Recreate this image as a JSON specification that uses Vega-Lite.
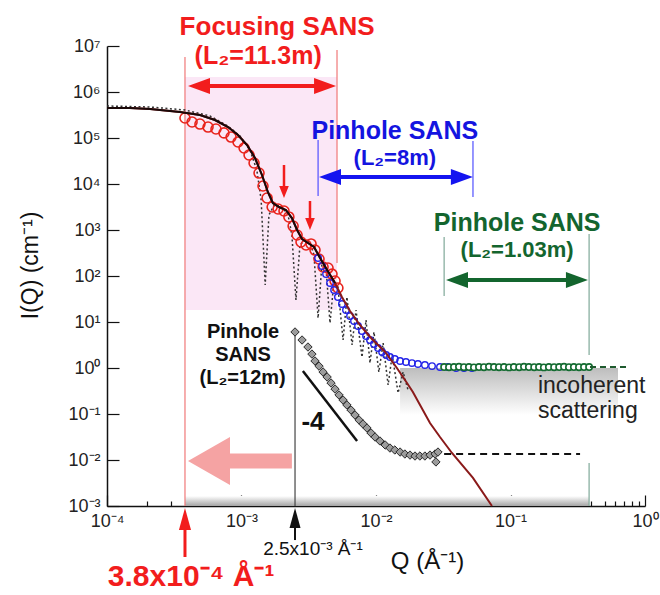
{
  "$schema": "https://vega.github.io/schema/vega-lite/v6.json",
  "width": 538,
  "height": 460,
  "autosize": {"type": "none"},
  "padding": {"left": 107, "top": 46, "right": 15, "bottom": 89},
  "background": "white",
  "config": {"view": {"stroke": null}, "font": "Liberation Sans"},
  "resolve": {"scale": {"color": "independent"}},
  "datasets": {
    "focusing": [
      {"q": 3.80e-4, "i": 2.72e5}, {"q": 4.29e-4, "i": 2.23e5}, {"q": 4.91e-4, "i": 2.01e5}, {"q": 5.64e-4, "i": 1.73e5},
      {"q": 6.46e-4, "i": 1.57e5}, {"q": 7.41e-4, "i": 1.29e5}, {"q": 8.36e-4, "i": 1.05e5}, {"q": 9.42e-4, "i": 8.18e4},
      {"q": 1.045e-3, "i": 6.06e4}, {"q": 1.138e-3, "i": 4.27e4}, {"q": 1.24e-3, "i": 2.86e4}, {"q": 1.35e-3, "i": 1.73e4},
      {"q": 1.445e-3, "i": 9.05e3}, {"q": 1.55e-3, "i": 4.96e3}, {"q": 1.69e-3, "i": 3.16e3}, {"q": 1.87e-3, "i": 2.86e3},
      {"q": 2.07e-3, "i": 2.59e3}, {"q": 2.25e-3, "i": 1.92e3}, {"q": 2.42e-3, "i": 1.22e3}, {"q": 2.59e-3, "i": 778},
      {"q": 2.77e-3, "i": 548}, {"q": 3.02e-3, "i": 472}, {"q": 3.29e-3, "i": 497}, {"q": 3.52e-3, "i": 367},
      {"q": 3.77e-3, "i": 234}, {"q": 4.04e-3, "i": 157}, {"q": 4.40e-3, "i": 149}, {"q": 4.71e-3, "i": 110},
      {"q": 4.96e-3, "i": 77.8}, {"q": 5.21e-3, "i": 54.8}
    ],
    "pinhole8m": [
      {"q": 3.71e-3, "i": 246}, {"q": 3.97e-3, "i": 165}, {"q": 4.25e-3, "i": 110}, {"q": 4.55e-3, "i": 70.5},
      {"q": 4.88e-3, "i": 49.6}, {"q": 5.21e-3, "i": 34.9}, {"q": 5.58e-3, "i": 24.6}, {"q": 5.98e-3, "i": 18.2},
      {"q": 6.41e-3, "i": 13.5}, {"q": 6.86e-3, "i": 10.5}, {"q": 7.35e-3, "i": 8.19}, {"q": 7.87e-3, "i": 6.37},
      {"q": 8.43e-3, "i": 4.96}, {"q": 9.02e-3, "i": 4.06}, {"q": 9.66e-3, "i": 3.33}, {"q": 1.035e-2, "i": 2.72},
      {"q": 1.11e-2, "i": 2.23}, {"q": 1.19e-2, "i": 1.92}, {"q": 1.27e-2, "i": 1.73}, {"q": 1.38e-2, "i": 1.57},
      {"q": 1.51e-2, "i": 1.42}, {"q": 1.67e-2, "i": 1.35}, {"q": 1.85e-2, "i": 1.28}, {"q": 2.05e-2, "i": 1.22},
      {"q": 2.31e-2, "i": 1.16}, {"q": 2.61e-2, "i": 1.10}, {"q": 2.99e-2, "i": 1.05}, {"q": 3.43e-2, "i": 1.05},
      {"q": 3.94e-2, "i": 1.0}, {"q": 4.51e-2, "i": 1.0}, {"q": 5.17e-2, "i": 1.0}
    ],
    "pinhole1m": [
      {"q": 0.0321, "i": 1.05}, {"q": 0.0349, "i": 1.04}, {"q": 0.0380, "i": 1.05}, {"q": 0.0414, "i": 1.06},
      {"q": 0.0451, "i": 1.04}, {"q": 0.0491, "i": 1.05}, {"q": 0.0535, "i": 1.03}, {"q": 0.0583, "i": 1.05},
      {"q": 0.0635, "i": 1.04}, {"q": 0.0692, "i": 1.06}, {"q": 0.0754, "i": 1.05}, {"q": 0.0821, "i": 1.04},
      {"q": 0.0895, "i": 1.05}, {"q": 0.0975, "i": 1.03}, {"q": 0.106, "i": 1.05}, {"q": 0.116, "i": 1.04},
      {"q": 0.126, "i": 1.06}, {"q": 0.137, "i": 1.05}, {"q": 0.150, "i": 1.04}, {"q": 0.163, "i": 1.05},
      {"q": 0.177, "i": 1.03}, {"q": 0.193, "i": 1.05}, {"q": 0.211, "i": 1.04}, {"q": 0.230, "i": 1.05},
      {"q": 0.250, "i": 1.06}, {"q": 0.272, "i": 1.04}, {"q": 0.296, "i": 1.05}, {"q": 0.323, "i": 1.04},
      {"q": 0.352, "i": 1.05}, {"q": 0.384, "i": 1.05}
    ],
    "pinhole12m": [
      {"q": 2.50e-3, "i": 6.07}, {"q": 2.82e-3, "i": 4.06}, {"q": 3.12e-3, "i": 2.86}, {"q": 3.34e-3, "i": 2.01},
      {"q": 3.52e-3, "i": 1.42}, {"q": 3.77e-3, "i": 1.10}, {"q": 4.04e-3, "i": 0.818}, {"q": 4.33e-3, "i": 0.637},
      {"q": 4.63e-3, "i": 0.472}, {"q": 4.96e-3, "i": 0.349}, {"q": 5.31e-3, "i": 0.259}, {"q": 5.69e-3, "i": 0.201},
      {"q": 6.08e-3, "i": 0.157}, {"q": 6.52e-3, "i": 0.122}, {"q": 6.98e-3, "i": 0.0951}, {"q": 7.48e-3, "i": 0.0741},
      {"q": 8.00e-3, "i": 0.0607}, {"q": 8.57e-3, "i": 0.0496}, {"q": 9.18e-3, "i": 0.0387}, {"q": 9.84e-3, "i": 0.0316},
      {"q": 1.07e-2, "i": 0.0259}, {"q": 1.17e-2, "i": 0.0212}, {"q": 1.27e-2, "i": 0.0182}, {"q": 1.38e-2, "i": 0.0165},
      {"q": 1.51e-2, "i": 0.0149}, {"q": 1.64e-2, "i": 0.0135}, {"q": 1.79e-2, "i": 0.0128}, {"q": 1.95e-2, "i": 0.0122},
      {"q": 2.12e-2, "i": 0.0122}, {"q": 2.31e-2, "i": 0.0122}, {"q": 2.52e-2, "i": 0.0128}, {"q": 2.75e-2, "i": 0.0135},
      {"q": 2.89e-2, "i": 0.0149}, {"q": 2.79e-2, "i": 0.00906}
    ],
    "model": [
      {"q": 1.0e-4, "i": 4.49e5}, {"q": 1.48e-4, "i": 4.49e5}, {"q": 2.09e-4, "i": 4.27e5}, {"q": 3.49e-4, "i": 3.67e5},
      {"q": 4.91e-4, "i": 3.16e5}, {"q": 6.35e-4, "i": 2.46e5}, {"q": 7.94e-4, "i": 1.73e5}, {"q": 9.42e-4, "i": 1.16e5},
      {"q": 1.10e-3, "i": 7.05e4}, {"q": 1.26e-3, "i": 3.67e4}, {"q": 1.42e-3, "i": 1.57e4}, {"q": 1.57e-3, "i": 6.70e3},
      {"q": 1.71e-3, "i": 3.86e3}, {"q": 1.90e-3, "i": 3.16e3}, {"q": 2.14e-3, "i": 2.72e3}, {"q": 2.37e-3, "i": 1.82e3},
      {"q": 2.59e-3, "i": 1.0e3}, {"q": 2.82e-3, "i": 637}, {"q": 3.12e-3, "i": 522}, {"q": 3.46e-3, "i": 427},
      {"q": 3.84e-3, "i": 246}, {"q": 4.33e-3, "i": 135}, {"q": 4.96e-3, "i": 70.5}, {"q": 5.58e-3, "i": 34.9},
      {"q": 6.41e-3, "i": 17.3}, {"q": 7.60e-3, "i": 8.60}, {"q": 9.33e-3, "i": 4.27}, {"q": 1.17e-2, "i": 2.23},
      {"q": 1.43e-2, "i": 1.0}, {"q": 1.70e-2, "i": 0.472}, {"q": 1.88e-2, "i": 0.301}, {"q": 2.52e-2, "i": 0.0637},
      {"q": 2.99e-2, "i": 0.0316}, {"q": 3.67e-2, "i": 0.0142}, {"q": 5.26e-2, "i": 4.07e-3}, {"q": 7.28e-2, "i": 1.0e-3}
    ],
    "fit": [
      {"q": 1.0e-4, "i": 4.49e5}, {"q": 1.48e-4, "i": 4.49e5}, {"q": 2.09e-4, "i": 4.27e5}, {"q": 3.49e-4, "i": 3.67e5},
      {"q": 4.91e-4, "i": 3.16e5}, {"q": 6.35e-4, "i": 2.46e5}, {"q": 7.94e-4, "i": 1.73e5}, {"q": 9.42e-4, "i": 1.16e5},
      {"q": 1.10e-3, "i": 7.05e4}, {"q": 1.26e-3, "i": 3.67e4}, {"q": 1.42e-3, "i": 1.57e4}, {"q": 1.57e-3, "i": 6.70e3},
      {"q": 1.71e-3, "i": 3.86e3}, {"q": 1.90e-3, "i": 3.16e3}, {"q": 2.14e-3, "i": 2.72e3}, {"q": 2.37e-3, "i": 1.82e3},
      {"q": 2.59e-3, "i": 1.0e3}, {"q": 2.82e-3, "i": 637}, {"q": 3.12e-3, "i": 522}, {"q": 3.46e-3, "i": 427},
      {"q": 3.84e-3, "i": 246}, {"q": 4.33e-3, "i": 135}, {"q": 4.96e-3, "i": 70.5}
    ],
    "unsmeared": [
      {"q": 1.0e-4, "i": 4.96e5}, {"q": 2.09e-4, "i": 4.72e5}, {"q": 3.80e-4, "i": 4.06e5}, {"q": 5.83e-4, "i": 3.01e5},
      {"q": 7.94e-4, "i": 1.82e5}, {"q": 9.75e-4, "i": 1.10e5}, {"q": 1.156e-3, "i": 5.48e4}, {"q": 1.30e-3, "i": 2.01e4},
      {"q": 1.40e-3, "i": 4.49e3}, {"q": 1.50e-3, "i": 63.7}, {"q": 1.60e-3, "i": 2.12e3}, {"q": 1.75e-3, "i": 3.49e3},
      {"q": 1.97e-3, "i": 3.33e3}, {"q": 2.22e-3, "i": 2.12e3}, {"q": 2.37e-3, "i": 778}, {"q": 2.54e-3, "i": 30.1},
      {"q": 2.72e-3, "i": 472}, {"q": 2.96e-3, "i": 607}, {"q": 3.23e-3, "i": 548}, {"q": 3.46e-3, "i": 286},
      {"q": 3.71e-3, "i": 12.2}, {"q": 3.97e-3, "i": 201}, {"q": 4.25e-3, "i": 149}, {"q": 4.55e-3, "i": 9.51},
      {"q": 4.88e-3, "i": 81.8}, {"q": 5.21e-3, "i": 57.7}, {"q": 5.69e-3, "i": 4.06}, {"q": 6.08e-3, "i": 34.9},
      {"q": 6.64e-3, "i": 3.16}, {"q": 7.10e-3, "i": 18.2}, {"q": 7.87e-3, "i": 1.73}, {"q": 8.43e-3, "i": 11.0},
      {"q": 9.02e-3, "i": 1.28}, {"q": 9.66e-3, "i": 6.06}, {"q": 1.05e-2, "i": 0.818}, {"q": 1.13e-2, "i": 3.49},
      {"q": 1.23e-2, "i": 0.427}, {"q": 1.32e-2, "i": 1.92}, {"q": 1.46e-2, "i": 0.286}, {"q": 1.59e-2, "i": 0.818},
      {"q": 1.73e-2, "i": 0.333}
    ]
  },
  "encoding": {
    "x": {
      "field": "q", "type": "quantitative",
      "scale": {"type": "log", "domain": [0.0001, 1], "nice": false},
      "axis": {
        "values": [0.0001, 0.0002, 0.0003, 0.0004, 0.0005, 0.0006, 0.0007, 0.0008, 0.0009,
                   0.001, 0.002, 0.003, 0.004, 0.005, 0.006, 0.007, 0.008, 0.009,
                   0.01, 0.02, 0.03, 0.04, 0.05, 0.06, 0.07, 0.08, 0.09,
                   0.1, 0.2, 0.3, 0.4, 0.5, 0.6, 0.7, 0.8, 0.9, 1],
        "labelExpr": "abs(log(datum.value)/LN10 - round(log(datum.value)/LN10)) < 0.001 ? '10' + ['⁻⁴','⁻³','⁻²','⁻¹','⁰'][round(log(datum.value)/LN10) + 4] : ''",
        "tickSize": {"condition": {"test": "abs(log(datum.value)/LN10 - round(log(datum.value)/LN10)) < 0.001", "value": -11}, "value": -5},
        "tickColor": "#111", "tickWidth": 1.2,
        "domainColor": "#111", "domainWidth": 1.5,
        "grid": false, "labelFlush": false, "labelOverlap": false, "labelBound": false,
        "labelFont": "Liberation Sans", "labelFontSize": 18, "labelColor": "#222", "labelPadding": 17,
        "title": "Q  (Å⁻¹)", "titleFontSize": 24, "titleFontWeight": "normal", "titleColor": "#111",
        "titleX": 320, "titleY": 55, "titleBaseline": "middle", "titleAlign": "center"
      }
    },
    "y": {
      "field": "i", "type": "quantitative",
      "scale": {"type": "log", "domain": [0.001, 10000000], "nice": false},
      "axis": {
        "values": [0.001, 0.01, 0.1, 1, 10, 100, 1000, 10000, 100000, 1000000, 10000000],
        "labelExpr": "'10' + ['⁻³','⁻²','⁻¹','⁰','¹','²','³','⁴','⁵','⁶','⁷'][round(log(datum.value)/LN10) + 3]",
        "tickSize": -12, "tickColor": "#111", "tickWidth": 1.2,
        "domainColor": "#111", "domainWidth": 1.5,
        "grid": false, "labelFont": "Liberation Sans", "labelFontSize": 18, "labelColor": "#222", "labelPadding": 19,
        "labelBound": false, "labelFlush": false, "labelOverlap": false,
        "title": "I(Q)  (cm⁻¹)", "titleFontSize": 23, "titleFontWeight": "normal", "titleColor": "#111",
        "titleX": -77, "titleY": 219, "titleBaseline": "middle", "titleAlign": "center", "titleAngle": -90
      }
    }
  },
  "layer": [
    {
      "data": {"values": [{"q": 3.8e-4, "q2": 5.13e-3, "i": 18.2, "i2": 2.12e6}]},
      "mark": {"type": "rect", "color": "#fbe7f6"},
      "encoding": {"x2": {"field": "q2"}, "y2": {"field": "i2"}}
    },
    {
      "data": {"values": [{"q": 0.0151, "q2": 0.63, "i": 0.095, "i2": 1.0}]},
      "mark": {"type": "rect", "color": {"gradient": "linear", "x1": 0, "y1": 0, "x2": 0, "y2": 1,
        "stops": [{"offset": 0, "color": "#bdbdbd"}, {"offset": 1, "color": "#ffffff"}]}},
      "encoding": {"x2": {"field": "q2"}, "y2": {"field": "i2"}}
    },
    {
      "data": {"values": [{"q": 3.8e-4, "q2": 0.384, "i": 1e-3, "i2": 1.65e-3}]},
      "mark": {"type": "rect", "color": {"gradient": "linear", "x1": 0, "y1": 0, "x2": 0, "y2": 1,
        "stops": [{"offset": 0, "color": "#ffffff"}, {"offset": 1, "color": "#a5a5a5"}]}},
      "encoding": {"x2": {"field": "q2"}, "y2": {"field": "i2"}}
    },
    {
      "data": {"values": [{"q": 8.0e-4, "q2": 2.37e-3, "i": 9.51e-3}]},
      "mark": {"type": "rule", "color": "#f5a3a3", "strokeWidth": 15, "strokeCap": "butt"},
      "encoding": {"x2": {"field": "q2"}}
    },
    {
      "data": {"values": [{"q": 5.73e-4, "i": 9.51e-3}]},
      "mark": {"type": "point", "shape": "M-0.875,0L0.875,-1L0.875,1Z", "size": 2304, "filled": true, "color": "#f5a3a3", "opacity": 1}
    },
    {
      "data": {"values": [
        {"set": "focusing", "q": 3.8e-4, "i": 1e-3, "i2": 5.77e6},
        {"set": "focusing", "q": 5.13e-3, "i": 192, "i2": 8.18e6},
        {"set": "pinhole8m", "q": 3.71e-3, "i": 5.48e3, "i2": 9.06e4},
        {"set": "pinhole8m", "q": 5.26e-2, "i": 5.21e3, "i2": 8.6e4},
        {"set": "pinhole1m", "q": 0.0321, "i": 36.7, "i2": 705},
        {"set": "pinhole1m", "q": 0.384, "i": 1.92, "i2": 818},
        {"set": "pinhole1m", "q": 0.384, "i": 1e-3, "i2": 0.00861},
        {"set": "pinhole12m", "q": 2.5e-3, "i": 1e-3, "i2": 6.07}
      ]},
      "mark": {"type": "rule", "strokeWidth": 1.2},
      "encoding": {
        "y2": {"field": "i2"},
        "color": {"field": "set", "type": "nominal", "legend": null,
          "scale": {"domain": ["focusing", "pinhole8m", "pinhole1m", "pinhole12m"], "range": ["#f07878", "#5050ff", "#7fa898", "#444444"]}}
      }
    },
    {
      "data": {"name": "unsmeared"},
      "mark": {"type": "line", "color": "#333333", "strokeWidth": 1.5, "strokeDash": [2, 2.5]}
    },
    {
      "data": {"name": "focusing"},
      "mark": {"type": "point", "shape": "circle", "filled": false, "color": "#e8231c", "size": 100, "strokeWidth": 1.6, "opacity": 1}
    },
    {
      "data": {"name": "pinhole8m"},
      "mark": {"type": "point", "shape": "circle", "filled": false, "color": "#2424e8", "size": 42, "strokeWidth": 1.4, "opacity": 1}
    },
    {
      "data": {"name": "pinhole1m"},
      "mark": {"type": "point", "shape": "circle", "fill": "#ffffff", "stroke": "#136b30", "fillOpacity": 1, "size": 40, "strokeWidth": 1.6, "opacity": 1}
    },
    {
      "data": {"name": "pinhole12m"},
      "mark": {"type": "point", "shape": "diamond", "fill": "#9c9c9c", "stroke": "#2a2a2a", "fillOpacity": 1, "size": 70, "strokeWidth": 1, "opacity": 1}
    },
    {
      "data": {"name": "model"},
      "mark": {"type": "line", "color": "#8a1a1a", "strokeWidth": 2}
    },
    {
      "data": {"name": "fit"},
      "mark": {"type": "line", "color": "#1a0808", "strokeWidth": 2}
    },
    {
      "data": {"values": [{"q": 0.0321, "q2": 0.329, "i": 0.0135}]},
      "mark": {"type": "rule", "color": "#111111", "strokeWidth": 2, "strokeDash": [7, 5]},
      "encoding": {"x2": {"field": "q2"}}
    },
    {
      "data": {"values": [{"q": 0.39, "q2": 0.75, "i": 1.05}]},
      "mark": {"type": "rule", "color": "#1e5a2e", "strokeWidth": 2, "strokeDash": [6, 4]},
      "encoding": {"x2": {"field": "q2"}}
    },
    {
      "data": {"values": [{"q": 2.86e-3, "q2": 7.23e-3, "i": 0.861, "i2": 0.0259}]},
      "mark": {"type": "rule", "color": "#111111", "strokeWidth": 2.5},
      "encoding": {"x2": {"field": "q2"}, "y2": {"field": "i2"}}
    },
    {
      "data": {"values": [
        {"set": "focusing", "q": 4.83e-4, "q2": 4.18e-3, "i": 1.35e6},
        {"set": "pinhole8m", "q": 4.55e-3, "q2": 4.35e-2, "i": 1.42e4},
        {"set": "pinhole1m", "q": 4.00e-2, "q2": 0.312, "i": 81.8}
      ]},
      "mark": {"type": "rule", "strokeWidth": 4},
      "encoding": {
        "x2": {"field": "q2"},
        "color": {"field": "set", "type": "nominal", "legend": null,
          "scale": {"domain": ["focusing", "pinhole8m", "pinhole1m"], "range": ["#f21d1d", "#1414f0", "#13652e"]}}
      }
    },
    {
      "data": {"values": [
        {"set": "focusing", "q": 4.83e-4, "i": 1.35e6},
        {"set": "pinhole8m", "q": 4.55e-3, "i": 1.42e4},
        {"set": "pinhole1m", "q": 4.00e-2, "i": 81.8}
      ]},
      "mark": {"type": "point", "shape": "M-1,0L1,-0.72L1,0.72Z", "size": 484, "filled": true, "opacity": 1},
      "encoding": {
        "color": {"field": "set", "type": "nominal", "legend": null,
          "scale": {"domain": ["focusing", "pinhole8m", "pinhole1m"], "range": ["#f21d1d", "#1414f0", "#13652e"]}}
      }
    },
    {
      "data": {"values": [
        {"set": "focusing", "q": 4.18e-3, "i": 1.35e6},
        {"set": "pinhole8m", "q": 4.35e-2, "i": 1.42e4},
        {"set": "pinhole1m", "q": 0.312, "i": 81.8}
      ]},
      "mark": {"type": "point", "shape": "M1,0L-1,-0.72L-1,0.72Z", "size": 484, "filled": true, "opacity": 1},
      "encoding": {
        "color": {"field": "set", "type": "nominal", "legend": null,
          "scale": {"domain": ["focusing", "pinhole8m", "pinhole1m"], "range": ["#f21d1d", "#1414f0", "#13652e"]}}
      }
    },
    {
      "data": {"values": [
        {"q": 2.07e-3, "i": 2.59e4, "i2": 6.70e3},
        {"q": 3.23e-3, "i": 4.27e3, "i2": 1.35e3}
      ]},
      "mark": {"type": "rule", "color": "#f21d1d", "strokeWidth": 2.5},
      "encoding": {"y2": {"field": "i2"}}
    },
    {
      "data": {"values": [
        {"q": 2.07e-3, "i": 6.70e3},
        {"q": 3.23e-3, "i": 1.35e3}
      ]},
      "mark": {"type": "point", "shape": "M0,1L-0.8,-1L0.8,-1Z", "size": 144, "filled": true, "color": "#f21d1d", "opacity": 1}
    },
    {
      "data": {"values": [{"q": 3.8e-4, "i": 7.78e-5, "i2": 5.21e-4}]},
      "mark": {"type": "rule", "color": "#f21d1d", "strokeWidth": 3},
      "encoding": {"y2": {"field": "i2"}}
    },
    {
      "data": {"values": [{"q": 3.8e-4, "i": 5.21e-4}]},
      "mark": {"type": "point", "shape": "M0,-1L0.55,1L-0.55,1Z", "size": 484, "filled": true, "color": "#f21d1d", "opacity": 1}
    },
    {
      "data": {"values": [{"q": 2.5e-3, "i": 1.82e-4, "i2": 5.48e-4}]},
      "mark": {"type": "rule", "color": "#111111", "strokeWidth": 2},
      "encoding": {"y2": {"field": "i2"}}
    },
    {
      "data": {"values": [{"q": 2.5e-3, "i": 5.48e-4}]},
      "mark": {"type": "point", "shape": "M0,-1L0.55,1L-0.55,1Z", "size": 400, "filled": true, "color": "#111111", "opacity": 1}
    },
    {
      "data": {"values": [{"t": "Focusing SANS", "q": 1.84e-3, "i": 2.6e7}]},
      "mark": {"type": "text", "color": "#f21d1d", "fontSize": 26, "fontWeight": "bold", "align": "center", "baseline": "middle"},
      "encoding": {"text": {"field": "t"}}
    },
    {
      "data": {"values": [{"t": "3.8x10⁻⁴ Å⁻¹", "q": 4.22e-4, "i": 2.86e-5}]},
      "mark": {"type": "text", "color": "#f21d1d", "fontSize": 30, "fontWeight": "bold", "align": "center", "baseline": "middle"},
      "encoding": {"text": {"field": "t"}}
    },
    {
      "data": {"values": [{"t": "(L₂=11.3m)", "q": 1.33e-3, "i": 6.0e6}]},
      "mark": {"type": "text", "color": "#f21d1d", "fontSize": 25, "fontWeight": "bold", "align": "center", "baseline": "middle"},
      "encoding": {"text": {"field": "t"}}
    },
    {
      "data": {"values": [{"t": "Pinhole SANS", "q": 1.38e-2, "i": 1.42e5}]},
      "mark": {"type": "text", "color": "#1414e0", "fontSize": 25, "fontWeight": "bold", "align": "center", "baseline": "middle"},
      "encoding": {"text": {"field": "t"}}
    },
    {
      "data": {"values": [{"t": "(L₂=8m)", "q": 1.38e-2, "i": 3.6e4}]},
      "mark": {"type": "text", "color": "#1414e0", "fontSize": 22, "fontWeight": "bold", "align": "center", "baseline": "middle"},
      "encoding": {"text": {"field": "t"}}
    },
    {
      "data": {"values": [{"t": "Pinhole SANS", "q": 0.112, "i": 1.45e3}]},
      "mark": {"type": "text", "color": "#13652e", "fontSize": 25, "fontWeight": "bold", "align": "center", "baseline": "middle"},
      "encoding": {"text": {"field": "t"}}
    },
    {
      "data": {"values": [{"t": "(L₂=1.03m)", "q": 0.112, "i": 370}]},
      "mark": {"type": "text", "color": "#13652e", "fontSize": 22, "fontWeight": "bold", "align": "center", "baseline": "middle"},
      "encoding": {"text": {"field": "t"}}
    },
    {
      "data": {"values": [
        {"t": "Pinhole", "q": 1.026e-3, "i": 6.07},
        {"t": "SANS", "q": 1.026e-3, "i": 1.92},
        {"t": "(L₂=12m)", "q": 1.02e-3, "i": 0.607}
      ]},
      "mark": {"type": "text", "color": "#111111", "fontSize": 20, "fontWeight": "bold", "align": "center", "baseline": "middle"},
      "encoding": {"text": {"field": "t"}}
    },
    {
      "data": {"values": [{"t": "-4", "q": 3.40e-3, "i": 0.067}]},
      "mark": {"type": "text", "color": "#111111", "fontSize": 26, "fontWeight": "bold", "align": "center", "baseline": "middle"},
      "encoding": {"text": {"field": "t"}}
    },
    {
      "data": {"values": [{"t": "incoherent", "q": 0.160, "i": 0.40}, {"t": "scattering", "q": 0.160, "i": 0.118}]},
      "mark": {"type": "text", "color": "#222222", "fontSize": 23, "align": "left", "baseline": "middle"},
      "encoding": {"text": {"field": "t"}}
    },
    {
      "data": {"values": [{"t": "2.5x10⁻³ Å⁻¹", "q": 3.40e-3, "i": 1.16e-4}]},
      "mark": {"type": "text", "color": "#111111", "fontSize": 19, "align": "center", "baseline": "middle"},
      "encoding": {"text": {"field": "t"}}
    }
  ]
}
